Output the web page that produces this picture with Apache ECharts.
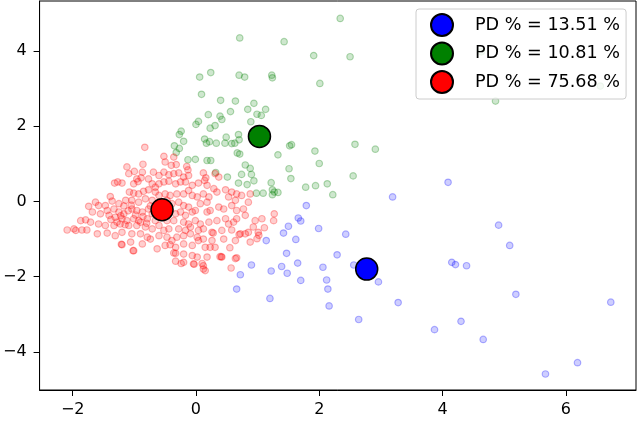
<!DOCTYPE html>
<html>
<head>
<meta charset="utf-8">
<script src="https://cdn.jsdelivr.net/npm/echarts@6/dist/echarts.min.js"></script>
<style>
html,body{margin:0;padding:0;background:#fff;}
#chart{width:640px;height:446px;}
</style>
</head>
<body>
<div id="chart"></div>
<script>
// ---- data ----
const xTicks = [-2, 0, 2, 4, 6];
const yTicks = [-4, -2, 0, 2, 4];
const legendLabels = ['PD % = 13.51 %', 'PD % = 10.81 %', 'PD % = 75.68 %'];
const clusterColors = ['#0000ff', '#008000', '#ff0000'];

const centroidBlue = [[2.77, -1.80]];
const centroidGreen = [[1.03, 1.73]];
const centroidRed = [[-0.55, -0.22]];

const bluePoints = [[4.09,0.51],[3.19,0.12],[1.79,-0.11],[1.66,-0.44],[1.70,-0.52],[1.50,-0.66],[1.42,-0.84],[1.99,-0.72],[2.43,-0.87],[1.14,-1.04],[1.62,-1.01],[4.91,-0.63],[5.09,-1.17],[1.47,-1.38],[2.29,-1.42],[0.90,-1.69],[1.22,-1.85],[1.39,-1.73],[1.48,-1.91],[1.65,-1.64],[1.70,-2.10],[2.06,-1.75],[2.12,-2.09],[2.14,-2.33],[2.56,-1.69],[2.96,-2.14],[4.15,-1.62],[4.21,-1.68],[4.39,-1.71],[5.19,-2.47],[6.73,-2.68],[3.28,-2.69],[1.20,-2.58],[2.16,-2.78],[2.64,-3.14],[3.87,-3.41],[4.30,-3.19],[4.66,-3.67],[6.19,-4.29],[5.67,-4.59],[0.72,-1.95],[0.66,-2.33]];

const greenPoints = [[2.34,4.87],[0.71,4.35],[1.43,4.25],[1.91,3.88],[2.50,3.85],[0.06,3.31],[0.24,3.43],[0.70,3.36],[0.79,3.31],[1.23,3.36],[1.24,3.29],[2.01,3.14],[0.09,2.85],[0.40,2.69],[0.64,2.67],[0.94,2.61],[0.56,2.39],[0.84,2.45],[1.13,2.45],[0.20,2.31],[0.39,2.27],[0.42,2.18],[0.99,2.32],[1.06,2.29],[0.04,2.13],[0.00,2.05],[0.89,2.12],[0.31,2.02],[0.23,1.95],[-0.24,1.87],[-0.27,1.78],[-0.20,1.60],[-0.35,1.48],[-0.27,1.41],[-0.32,1.30],[0.14,1.66],[0.17,1.55],[0.22,1.59],[0.33,1.55],[0.47,1.55],[0.49,1.71],[0.58,1.54],[0.63,1.55],[0.69,1.78],[0.70,1.64],[0.67,1.29],[0.71,1.26],[1.52,1.48],[1.55,1.51],[1.33,1.24],[1.93,1.34],[2.58,1.52],[2.91,1.39],[2.00,1.01],[-0.13,1.11],[-0.01,1.12],[0.18,1.09],[0.24,1.09],[0.32,0.77],[0.51,0.65],[0.74,0.72],[0.80,0.97],[0.88,0.88],[0.90,0.72],[0.94,0.55],[0.83,0.45],[0.69,0.49],[1.51,0.87],[1.54,0.61],[1.22,0.50],[2.55,0.68],[1.78,0.38],[1.94,0.42],[2.13,0.47],[2.22,0.18],[0.98,0.22],[1.09,0.22],[1.24,0.31],[1.27,0.25],[1.33,0.24],[1.24,0.18],[4.86,2.67],[6.56,3.07],[4.63,3.98]];

const redPoints = [[-0.83,1.44],[-0.52,1.20],[-0.50,1.05],[-0.36,1.18],[-0.40,0.96],[-0.32,0.98],[-0.15,0.93],[-0.13,0.84],[-0.86,0.99],[-1.00,0.80],[-1.12,0.92],[-1.09,0.74],[-0.87,0.78],[-0.96,0.60],[-0.69,0.78],[-0.60,0.69],[-0.52,0.78],[-0.44,0.71],[-0.36,0.74],[-0.28,0.76],[-0.20,0.65],[-0.12,0.69],[0.12,0.76],[0.16,0.63],[0.14,0.56],[0.31,0.74],[0.37,0.65],[-1.32,0.49],[-1.20,0.49],[-1.27,0.52],[-1.01,0.47],[-0.94,0.53],[-0.89,0.63],[-0.77,0.60],[-0.71,0.47],[-0.66,0.38],[-0.60,0.47],[-0.52,0.52],[-0.44,0.54],[-0.33,0.47],[-0.25,0.52],[-0.17,0.52],[-0.06,0.43],[0.04,0.49],[0.18,0.43],[0.29,0.34],[0.34,0.25],[0.48,0.31],[0.58,0.25],[0.66,0.20],[0.53,0.12],[0.64,0.03],[0.74,0.16],[0.88,0.20],[0.85,-0.02],[0.77,-0.20],[-1.08,0.25],[-1.01,0.22],[-0.93,0.20],[-0.85,0.27],[-0.77,0.31],[-0.66,0.25],[-0.60,0.16],[-0.50,0.20],[-0.42,0.16],[-0.31,0.20],[-0.20,0.20],[-0.12,0.29],[-0.06,0.16],[0.02,0.12],[0.12,0.20],[0.21,0.12],[-1.39,0.13],[-1.36,0.01],[-1.25,-0.06],[-1.14,0.03],[-1.04,0.03],[-0.93,-0.02],[-0.82,0.07],[-0.71,0.03],[-0.63,-0.06],[-0.47,0.03],[-0.39,-0.06],[-0.28,-0.02],[-0.20,-0.11],[-0.12,-0.15],[-0.01,-0.24],[0.07,-0.06],[0.18,-0.02],[0.23,-0.24],[0.37,-0.15],[0.45,-0.20],[0.58,-0.11],[0.66,-0.24],[-1.63,-0.02],[-1.58,-0.11],[-1.47,-0.11],[-1.44,-0.24],[-1.33,-0.20],[-1.25,-0.28],[-1.17,-0.33],[-1.04,-0.20],[-0.96,-0.24],[-0.87,-0.28],[-0.77,-0.20],[-0.71,-0.33],[-0.33,-0.33],[-0.25,-0.28],[-0.17,-0.37],[-0.06,-0.28],[0.18,-0.28],[-1.74,-0.13],[-1.68,-0.28],[-1.55,-0.33],[-1.41,-0.37],[-1.31,-0.42],[-1.20,-0.46],[-1.12,-0.51],[-1.01,-0.46],[-0.93,-0.51],[-0.79,-0.46],[-0.66,-0.51],[-0.47,-0.51],[-0.36,-0.51],[-0.20,-0.55],[-0.12,-0.60],[-0.01,-0.51],[0.07,-0.60],[0.21,-0.55],[0.34,-0.51],[0.48,-0.46],[0.53,-0.60],[0.61,-0.55],[0.66,-0.46],[0.80,-0.37],[0.96,-0.51],[1.07,-0.46],[1.26,-0.51],[0.93,-0.68],[0.85,-0.82],[1.01,-0.82],[-1.87,-0.51],[-1.79,-0.49],[-1.71,-0.55],[-1.58,-0.60],[-1.47,-0.64],[-1.33,-0.64],[-1.23,-0.60],[-1.09,-0.64],[-0.96,-0.64],[-0.82,-0.68],[-0.71,-0.73],[-0.60,-0.64],[-0.52,-0.77],[-0.44,-0.73],[-0.28,-0.73],[-0.17,-0.77],[-0.09,-0.68],[0.04,-0.77],[0.12,-0.73],[0.26,-0.82],[0.42,-0.77],[0.58,-0.76],[0.72,-0.86],[0.80,-0.86],[-2.09,-0.76],[-1.98,-0.73],[-1.95,-0.77],[-1.85,-0.76],[-1.77,-0.76],[-1.60,-0.86],[-1.44,-0.84],[-1.31,-0.91],[-1.20,-0.82],[-1.04,-0.86],[-0.90,-0.86],[-0.79,-0.95],[-0.74,-1.00],[-0.60,-0.91],[-0.47,-0.95],[-0.39,-1.04],[-0.31,-0.95],[-0.20,-0.91],[-0.09,-0.86],[0.02,-0.95],[0.12,-1.00],[0.26,-1.04],[0.45,-1.00],[0.64,-1.04],[0.88,-1.08],[-1.20,-1.15],[-1.01,-1.31],[-0.87,-1.13],[-0.63,-1.26],[-0.50,-1.17],[-0.42,-1.15],[-0.33,-1.22],[-0.20,-1.13],[-0.06,-1.17],[0.04,-1.04],[0.15,-1.22],[0.23,-1.22],[0.31,-1.22],[0.42,-1.48],[0.66,-1.50],[-0.33,-1.38],[-0.20,-1.40],[-0.06,-1.44],[0.02,-1.48],[0.18,-1.48],[0.39,-1.47],[-0.33,-1.59],[-0.20,-1.62],[-0.04,-1.66],[0.12,-1.71],[0.12,-1.80],[0.15,-1.84],[0.57,-1.77],[1.27,-0.33],[1.11,-0.70],[0.99,-0.99],[-1.21,-1.14],[-1.06,-1.08],[-1.02,-1.31],[-0.36,-1.37],[-0.24,-1.65],[-0.03,-1.67],[0.10,-1.65],[0.28,-0.84],[0.41,-1.47],[0.55,-1.23],[0.64,-1.52],[0.70,-0.88],[1.02,-0.90],[-1.22,-0.38],[-1.10,-0.25],[-0.98,-0.36],[-0.86,-0.40],[-1.28,-0.55],[-1.15,-0.62],[-0.90,-0.55],[-1.05,-0.10],[-0.74,-0.12],[-0.80,-0.58],[-1.38,-0.48],[-1.17,-0.12]];

// ---- chart ----
const FONT = 'DejaVu Sans';
const minusFmt = v => (v < 0 ? '\u2212' + Math.abs(v) : String(v));

function pointSeries(name, data, rgb) {
  return {
    name: name,
    type: 'scatter',
    data: data,
    symbol: 'circle',
    symbolSize: 6.5,
    silent: true,
    z: 2,
    itemStyle: {
      color: 'rgba(' + rgb + ',0.24)',
      borderColor: 'rgba(' + rgb + ',0.36)',
      borderWidth: 1.2
    }
  };
}
function centroidSeries(name, data, color) {
  return {
    name: name,
    type: 'scatter',
    data: data,
    symbol: 'circle',
    symbolSize: 22,
    silent: true,
    z: 5,
    itemStyle: { color: color, borderColor: '#000', borderWidth: 1.5, opacity: 1 }
  };
}

const chart = echarts.init(document.getElementById('chart'), null, { renderer: 'canvas' });
chart.setOption({
  animation: false,
  backgroundColor: '#fff',
  textStyle: { fontFamily: FONT },
  grid: {
    left: 37, right: 4, top: 1, bottom: 56,
    show: true, borderColor: '#000', borderWidth: 1, backgroundColor: 'transparent'
  },
  xAxis: {
    type: 'value',
    min: -2.537, max: 7.139,
    splitLine: { show: false },
    axisLine: { show: true, onZero: false, lineStyle: { color: '#000', width: 1 } },
    axisTick: { show: true, length: 6, customValues: xTicks, lineStyle: { color: '#000' } },
    axisLabel: {
      customValues: xTicks, margin: 12, color: '#000', fontSize: 16, fontFamily: FONT,
      formatter: minusFmt
    }
  },
  yAxis: {
    type: 'value',
    min: -5.016, max: 5.333,
    splitLine: { show: false },
    axisLine: { show: true, onZero: false, lineStyle: { color: '#000', width: 1 } },
    axisTick: { show: true, length: 6, customValues: yTicks, lineStyle: { color: '#000' } },
    axisLabel: {
      customValues: yTicks, margin: 13, color: '#000', fontSize: 16, fontFamily: FONT,
      formatter: minusFmt
    }
  },
  legend: {
    data: legendLabels,
    orient: 'vertical',
    left: 416, top: 9,
    padding: [4, 6, 5, 14],
    itemWidth: 22, itemHeight: 22, itemGap: 4.5,
    icon: 'circle',
    backgroundColor: 'rgba(255,255,255,0.8)',
    borderColor: '#cccccc', borderWidth: 1, borderRadius: 3,
    selectedMode: false,
    textStyle: { fontSize: 17.6, color: '#000', fontFamily: FONT, padding: [0, 0, 0, 17] }
  },
  series: [
    pointSeries('blue points', bluePoints, '0,0,255'),
    pointSeries('green points', greenPoints, '0,128,0'),
    pointSeries('red points', redPoints, '255,0,0'),
    centroidSeries(legendLabels[0], centroidBlue, clusterColors[0]),
    centroidSeries(legendLabels[1], centroidGreen, clusterColors[1]),
    centroidSeries(legendLabels[2], centroidRed, clusterColors[2])
  ]
});
</script>
</body>
</html>
